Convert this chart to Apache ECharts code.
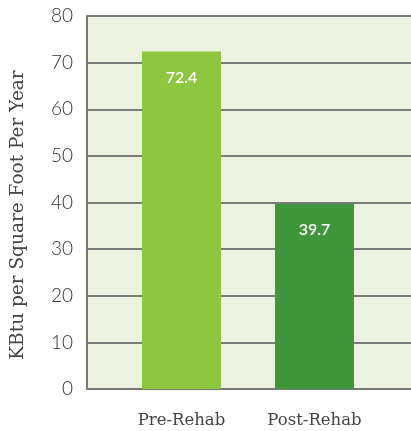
<!DOCTYPE html>
<html>
<head>
<meta charset="utf-8">
<script src="https://cdn.jsdelivr.net/npm/echarts@6/dist/echarts.min.js"></script>
<style>
html,body{margin:0;padding:0;background:#fff;}
#chart{width:411px;height:431px;}
</style>
</head>
<body>
<div id="chart"></div>
<script>
const categories = ['Pre-Rehab', 'Post-Rehab'];
const values = [72.4, 39.7];
const barColors = ['#8dc63f', '#3f973b'];
const yTicks = [0, 10, 20, 30, 40, 50, 60, 70, 80];
const yTitle = 'KBtu per Square Foot Per Year';

const chart = echarts.init(document.getElementById('chart'), null, {renderer: 'canvas'});
chart.setOption({
  animation: false,
  grid: [
    {left: 87, right: 0, top: 16, bottom: 42, show: true, backgroundColor: '#ecf2df', borderWidth: 0},
    {left: 115, right: 30, top: 16, bottom: 42}
  ],
  xAxis: [
    {gridIndex: 0, type: 'category', data: [''], axisLine: {show: true, lineStyle: {color: '#777', width: 2}}, axisTick: {show: false}, axisLabel: {show: false}},
    {gridIndex: 1, type: 'category', data: categories,
     axisLine: {show: false}, axisTick: {show: false},
     axisLabel: {margin: 23, color: '#444', fontFamily: 'DejaVu Serif', fontSize: 16.5}}
  ],
  yAxis: [
    {gridIndex: 0, type: 'value', min: yTicks[0], max: yTicks[yTicks.length - 1], interval: 10,
     axisLine: {show: true, lineStyle: {color: '#777', width: 2}}, axisTick: {show: false},
     axisLabel: {margin: 14, color: '#333', fontFamily: 'Lato', fontWeight: 300, fontSize: 19},
     splitLine: {show: true, lineStyle: {color: '#555', width: 1.5}}},
    {gridIndex: 1, type: 'value', min: 0, max: 80, show: false, splitLine: {show: false}}
  ],
  series: [{
    type: 'bar', xAxisIndex: 1, yAxisIndex: 1,
    barWidth: 79,
    data: values.map((v, i) => ({value: v, itemStyle: {color: barColors[i]}})),
    label: {show: true, position: 'insideTop', distance: 18, color: '#fff', fontFamily: 'Lato', fontWeight: 600, fontSize: 16,
      formatter: p => p.value.toFixed(1)}
  }],
  graphic: [{
    type: 'text', x: 18, y: 215, rotation: Math.PI / 2,
    style: {text: yTitle, fill: '#444', font: '18.5px "DejaVu Serif"', textAlign: 'center', textVerticalAlign: 'middle'}
  }]
});
</script>
</body>
</html>
